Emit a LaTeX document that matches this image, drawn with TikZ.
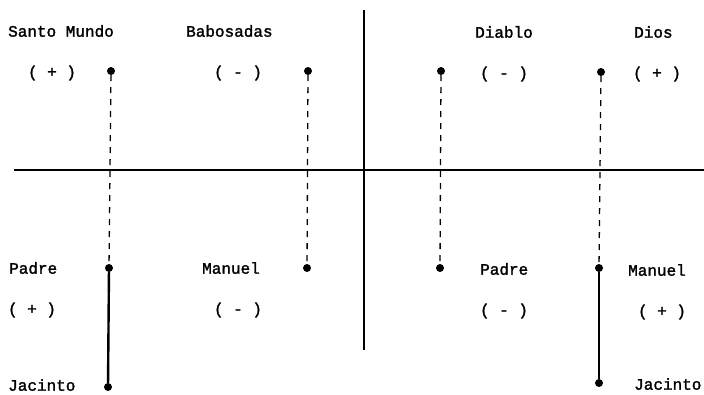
\documentclass[tikz,border=0pt]{standalone}
\usepackage{fontspec}
\newfontfamily\tw[FakeBold=1.6]{Liberation Mono}
\begin{document}
\begin{tikzpicture}[x=1pt,y=-1pt,
  dot/.style={circle,fill=black,inner sep=0pt,minimum size=8pt},
  lbl/.style={font=\tw\fontsize{16}{18}\selectfont,inner sep=0pt},
  axis/.style={line width=2pt},
  vaxis/.style={line width=2.6pt},
  dashline/.style={line width=1.3pt,dash pattern=on 6pt off 6pt},
  solidline/.style={line width=2.4pt}]
\useasboundingbox (0,0) rectangle (704,394);
% axes
\coordinate (hl) at (14,170);
\coordinate (hr) at (704,170);
\coordinate (vt) at (364,10);
\coordinate (vb) at (364,350);
\draw[axis] (hl) -- (hr);
\draw[vaxis] (vt) -- (vb);
% dots
\node[dot] (d1) at (111,71) {};
\node[dot] (d2) at (308,71) {};
\node[dot] (d3) at (441,71) {};
\node[dot] (d4) at (601,72) {};
\node[dot] (b1) at (109,268) {};
\node[dot] (j1) at (108,387) {};
\node[dot] (b2) at (307,268) {};
\node[dot] (b3) at (440,268) {};
\node[dot] (b4) at (599,268) {};
\node[dot] (j2) at (599,383) {};
% connectors
\draw[dashline] (d1) -- (b1);
\draw[dashline] (d2) -- (b2);
\draw[dashline] (d3) -- (b3);
\draw[dashline] (d4) -- (b4);
\draw[solidline] (b1) -- (j1);
\draw[solidline] (b4) -- (j2);
% labels
\node[lbl,anchor=west] (t1) at (8,31) {Santo Mundo};
\node[lbl,anchor=west] (t2) at (186,31) {Babosadas};
\node[lbl,anchor=west] (t3) at (475,32) {Diablo};
\node[lbl,anchor=west] (t4) at (634,32) {Dios};
\node[lbl] (s1) at (52,73) {( + )};
\node[lbl] (s2) at (238,73) {( - )};
\node[lbl] (s3) at (504,74) {( - )};
\node[lbl] (s4) at (657,74) {( + )};
\node[lbl,anchor=west] (p1) at (9,268) {Padre};
\node[lbl] (s5) at (32,310) {( + )};
\node[lbl,anchor=west] (m1) at (202,268) {Manuel};
\node[lbl] (s6) at (238,310) {( - )};
\node[lbl,anchor=west] (p2) at (480,269) {Padre};
\node[lbl] (s7) at (504,311) {( - )};
\node[lbl,anchor=west] (m2) at (628,270) {Manuel};
\node[lbl] (s8) at (662,312) {( + )};
\node[lbl,anchor=west] (ja1) at (8,385) {Jacinto};
\node[lbl,anchor=west] (ja2) at (634,384) {Jacinto};
\end{tikzpicture}
\end{document}
